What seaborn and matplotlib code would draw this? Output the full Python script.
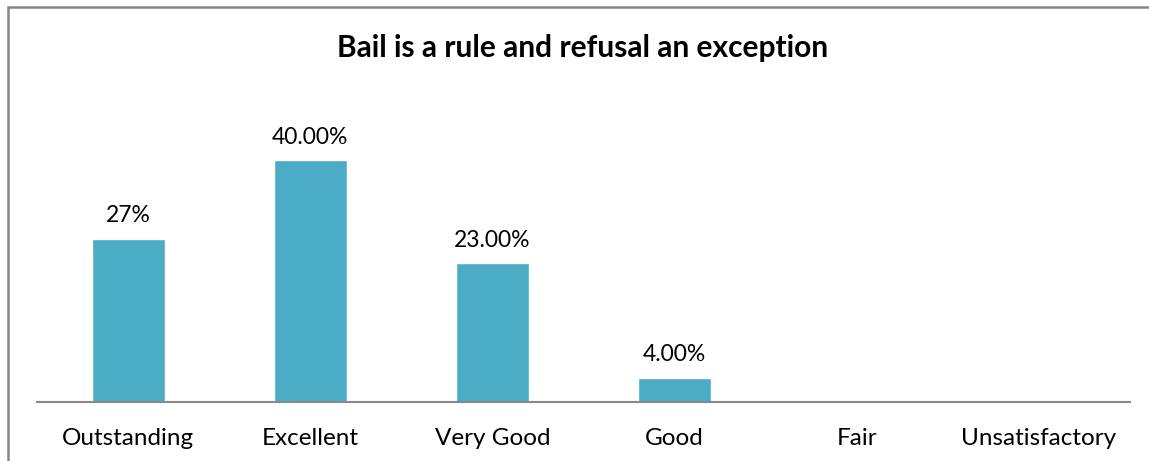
import matplotlib
matplotlib.use("Agg")
import matplotlib.pyplot as plt
from matplotlib.patches import Rectangle
import seaborn as sns
import pandas as pd

categories = ["Outstanding", "Excellent", "Very Good", "Good", "Fair", "Unsatisfactory"]
values = [27, 40, 23, 4, 0, 0]
value_labels = ["27%", "40.00%", "23.00%", "4.00%", "", ""]
title = "Bail is a rule and refusal an exception"

sns.set_theme(style="white")
plt.rcParams["font.family"] = ["Lato", "DejaVu Sans"]

df = pd.DataFrame({"category": categories, "value": values})

W, H = 1149, 461
fig = plt.figure(figsize=(W / 100, H / 100), dpi=100)
ax = fig.add_axes([37 / W, (H - 402) / H, (1130 - 37) / W, (402 - 100) / H])

sns.barplot(data=df, x="category", y="value", color="#4BACC6", width=0.4,
            saturation=1, ax=ax)

ax.set_ylim(0, 50)
ax.set_xlim(-0.5, len(categories) - 0.5)
ax.set_xlabel("")
ax.set_ylabel("")
ax.set_yticks([])
for side in ["left", "right", "top"]:
    ax.spines[side].set_visible(False)
ax.spines["bottom"].set_color("#898989")
ax.spines["bottom"].set_linewidth(1.5)
ax.tick_params(axis="x", length=0, pad=19, labelsize=17.5, colors="#000000")

for i, (v, lab) in enumerate(zip(values, value_labels)):
    if lab:
        ax.annotate(lab, (i, v), xytext=(0, 9), textcoords="offset points",
                    ha="center", va="bottom", fontsize=16.5, color="#000000")

fig.text(583 / W, 1 - 48 / H, title, ha="center", va="center",
         fontsize=21.5, fontweight="bold", color="#000000")

# outer chart frame (right and bottom edges fall outside the canvas)
fig.patches.append(Rectangle((7.5 / W, -0.1), 1.2, 1.1 - 7.5 / H,
                             transform=fig.transFigure, fill=False,
                             edgecolor="#878787", linewidth=1.8))

fig.savefig("out.png", dpi=100)
